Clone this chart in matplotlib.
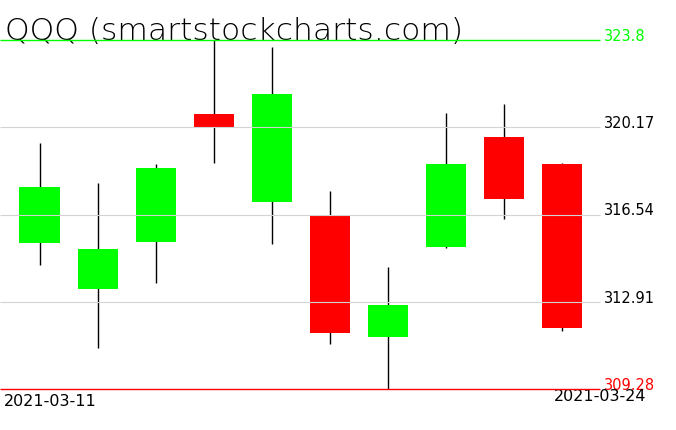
import numpy as np
import matplotlib
matplotlib.use('Agg')
import matplotlib.pyplot as plt

# ### Data: daily candles
dates = ['2021-03-11', '2021-03-12', '2021-03-15', '2021-03-16', '2021-03-17',
         '2021-03-18', '2021-03-19', '2021-03-22', '2021-03-23', '2021-03-24']
opens = [315.37, 313.45, 315.41, 320.72, 317.07, 316.53, 311.46, 315.20, 319.76, 318.64]
highs = [319.51, 317.85, 318.64, 323.80, 323.51, 317.52, 314.36, 320.76, 321.14, 318.68]
lows = [314.45, 311.00, 313.70, 318.70, 315.31, 311.17, 309.28, 315.16, 316.35, 311.71]
closes = [317.68, 315.10, 318.47, 320.19, 321.55, 311.62, 312.77, 318.64, 317.20, 311.83]

price_max = 323.8
price_min = 309.28
grid_levels = [320.17, 316.54, 312.91]

# ### Plotting parameters
figure_size = (6.76, 4.31)
dots_per_inch = 100
up_color = '#00ff00'
down_color = '#ff0000'
grid_color = '#d3d3d3'

W, H = 676.0, 431.0
px_per_unit = (390 - 41) / (price_max - price_min)  # vertical pixels per dollar
x0_px, step_px = 39.5, 58.0                       # first candle centre, spacing

figure = plt.figure(figsize=figure_size, dpi=dots_per_inch)
ax = figure.add_axes([0, 0, 1, 1])
ax.set_xlim(-x0_px / step_px, (W - x0_px) / step_px)
ax.set_ylim(price_min - (H - 390) / px_per_unit, price_max + 41 / px_per_unit)
ax.axis('off')

x = np.arange(len(dates))
line_end = (600 - x0_px) / step_px
line_start = -x0_px / step_px

# wicks and bodies
ax.vlines(x, lows, highs, color='black', linewidth=1.0, zorder=2)
opens_a = np.array(opens)
closes_a = np.array(closes)
colors = [up_color if c >= o else down_color for o, c in zip(opens, closes)]
ax.bar(x, closes_a - opens_a, bottom=opens_a, width=40 / step_px,
       color=colors, linewidth=0, zorder=3)

# horizontal price lines
ax.hlines(grid_levels, line_start, line_end, color=grid_color, linewidth=0.8, zorder=4)
ax.hlines(price_max, line_start, line_end, color=up_color, linewidth=1.0, zorder=4)
ax.hlines(price_min, line_start, line_end, color=down_color, linewidth=1.0, zorder=4)

# price labels on the right
label_x = 604 / W
ytrans = ax.get_yaxis_transform()
for lvl in grid_levels:
    ax.text(label_x, lvl, '%.2f' % lvl, transform=ytrans,
            fontsize=10.5, color='black', va='baseline', ha='left')
ax.text(label_x, price_max, '323.8', transform=ytrans,
        fontsize=10.5, color=up_color, va='baseline', ha='left')
ax.text(label_x, price_min, '%.2f' % price_min, transform=ytrans,
        fontsize=10.5, color=down_color, va='baseline', ha='left')

# date labels and title
ax.text(4 / W, 1 - 406 / H, dates[0], transform=ax.transAxes,
        fontsize=11.5, va='baseline', ha='left')
ax.text(646 / W, 1 - 401 / H, dates[-1], transform=ax.transAxes,
        fontsize=11.5, va='baseline', ha='right')
ax.text(5 / W, 1 - 40 / H, 'QQQ (smartstockcharts.com)', transform=ax.transAxes,
        fontsize=22.6, va='baseline', ha='left', fontweight='light')

figure.savefig('out.png', dpi=dots_per_inch)
